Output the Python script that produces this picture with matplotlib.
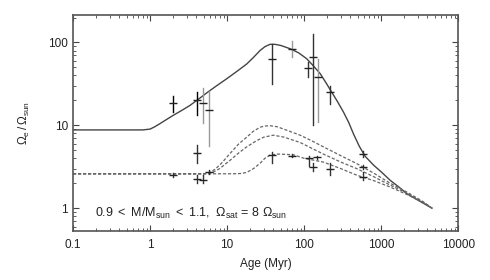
import numpy as np
import matplotlib
matplotlib.use('Agg')
import matplotlib.pyplot as plt
from matplotlib.ticker import FixedLocator, FixedFormatter, LogLocator, NullFormatter

# curva del modelo (Omega_sat = 8 Omega_sun)
age_solid = [0.1, 0.5, 0.8, 1.0, 1.15, 1.35, 1.6, 2.0, 2.6, 3.3, 4.2, 5.4, 7.3, 9.9, 13.5, 18, 22, 26.8, 31, 36,
             42, 50, 66, 85, 108, 130, 162, 195, 229, 270, 324, 380, 437, 520, 620, 800, 1000, 1310, 1700, 2150,
             3000, 4570]
om_solid = [8.8, 8.8, 8.8, 9.0, 9.6, 10.5, 11.6, 13.2, 15.2, 17.4, 20.5, 24.5, 30, 36.5, 45, 55, 66, 80, 89, 95,
            95, 92, 84, 75, 63.7, 53, 42, 32, 25, 19.5, 14.5, 10.8, 7.9, 5.6, 4.23, 3.3, 2.75, 2.17, 1.8, 1.5,
            1.25, 1.0]

# tres curvas discontinuas
age_d1 = [0.1, 5.0, 6.0, 7.0, 8.5, 11, 14, 18, 22, 27, 31, 36, 45, 60, 89, 130, 178, 300, 483, 800, 1310, 2200,
          3500, 4570]
om_d1 = [2.6, 2.6, 2.7, 2.95, 3.5, 4.6, 5.9, 7.2, 8.5, 9.5, 9.8, 9.9, 9.6, 8.7, 7.6, 6.4, 5.5, 4.3, 3.45, 2.65,
         2.0, 1.55, 1.2, 1.0]
age_d2 = [0.1, 5.5, 6.5, 8.0, 11, 14, 18, 24, 30, 40, 55, 66, 89, 130, 178, 300, 483, 800, 1310, 2200, 3500, 4570]
om_d2 = [2.6, 2.6, 2.7, 3.0, 3.8, 4.6, 5.5, 6.5, 7.2, 7.6, 7.2, 6.8, 6.2, 5.2, 4.5, 3.6, 3.0, 2.4, 1.9, 1.5, 1.18,
         1.0]
age_d3 = [0.1, 12, 15, 18, 22, 27, 31, 36, 45, 60, 73, 100, 178, 300, 483, 800, 1310, 2200, 3500, 4570]
om_d3 = [2.6, 2.6, 2.62, 2.7, 3.0, 3.5, 4.0, 4.35, 4.5, 4.45, 4.4, 4.0, 3.6, 3.0, 2.5, 2.15, 1.8, 1.45, 1.17, 1.0]

# datos observados (edad, valor, min, max)
up_age = [1.97, 4.04, 4.9, 5.9, 38.7, 69, 113, 130, 153, 218, 578]
up_val = [18.4, 20, 18.6, 15.5, 63, 84, 49.5, 66.6, 38, 25, 4.56]
up_lo = [14.3, 13.2, 10.6, 5.6, 31.8, 66, 38, 10, 11, 18, 4.2]
up_hi = [22.4, 25, 28, 26, 96, 104, 58, 125, 63, 30, 4.9]
up_col = ['k', 'k', '#999', '#999', '#333', '#999', '#333', '#333', '#999', '#333', '#333']

lo_age = [1.97, 4.04, 4.04, 4.9, 5.9, 38.7, 69, 116, 130, 147, 218, 578, 590]
lo_val = [2.5, 4.6, 2.24, 2.2, 2.7, 4.35, 4.3, 4.0, 3.1, 4.1, 3.0, 3.15, 2.4]
lo_lo = [2.35, 3.5, 2.0, 2.0, 2.55, 3.5, 4.1, 3.2, 2.8, 3.9, 2.5, 3.0, 2.2]
lo_hi = [2.65, 5.8, 2.5, 2.5, 2.85, 4.7, 4.5, 4.3, 3.5, 4.3, 3.5, 3.3, 2.7]

plt.rcParams['font.family'] = ['Liberation Sans', 'DejaVu Sans']
plt.rcParams['mathtext.fontset'] = 'custom'
plt.rcParams['mathtext.rm'] = 'Liberation Sans'
plt.rcParams['mathtext.it'] = 'Liberation Sans'

fs = 8.5
fig = plt.figure(figsize=(4.9, 2.8), dpi=100)
ax = fig.add_axes([0.149, 0.175, 0.786, 0.771])

ax.plot(age_solid, om_solid, color='#444', lw=1.0)
for a, o in [(age_d1, om_d1), (age_d2, om_d2), (age_d3, om_d3)]:
    ax.plot(a, o, color='#666', lw=0.9, ls=(0, (2.5, 1.5)))

for i in range(len(up_age)):
    ax.plot([up_age[i], up_age[i]], [up_lo[i], up_hi[i]], color=up_col[i], lw=1.0)
ax.plot(up_age, up_val, ls='none', marker='_', ms=6, mew=1.0, color='#222')

for i in range(len(lo_age)):
    ax.plot([lo_age[i], lo_age[i]], [lo_lo[i], lo_hi[i]], color='#333', lw=1.0)
ax.plot(lo_age, lo_val, ls='none', marker='_', ms=6, mew=1.0, color='#222')

ax.set_xscale('log')
ax.set_yscale('log')
ax.set_xlim(0.1, 10000)
ax.set_ylim(0.53, 214)

ax.xaxis.set_major_locator(FixedLocator([0.1, 1, 10, 100, 1000, 10000]))
ax.xaxis.set_major_formatter(FixedFormatter(['0.1', '1', '10', '100', '1000', '10000']))
ax.yaxis.set_major_locator(FixedLocator([1, 10, 100]))
ax.yaxis.set_major_formatter(FixedFormatter(['1', '10', '100']))
ax.xaxis.set_minor_locator(LogLocator(base=10, subs=np.arange(2, 10)))
ax.yaxis.set_minor_locator(LogLocator(base=10, subs=np.arange(2, 10)))
ax.xaxis.set_minor_formatter(NullFormatter())
ax.yaxis.set_minor_formatter(NullFormatter())

ax.tick_params(which='both', direction='in', top=True, right=True, colors='#444', labelcolor='#222', labelsize=fs)
ax.tick_params(which='major', length=4, width=0.8)
ax.tick_params(which='minor', length=2, width=0.6)
ax.tick_params(axis='x', pad=6)
for s in ax.spines.values():
    s.set_color('#555')
    s.set_linewidth(1.2)

ax.set_xlabel('Age (Myr)', fontsize=fs, color='#222', labelpad=5)
ax.set_ylabel(r'$\Omega_e\,/\,\Omega_{sun}$', fontsize=fs, color='#222', labelpad=12)

ax.text(0.057, 0.083, r'0.9 $<$ M/M$_{sun}$ $<$ 1.1,  $\Omega_{sat}$ = 8 $\Omega_{sun}$', fontsize=9,
        color='#222', va='center', transform=ax.transAxes)

fig.savefig('out.png', dpi=100)
